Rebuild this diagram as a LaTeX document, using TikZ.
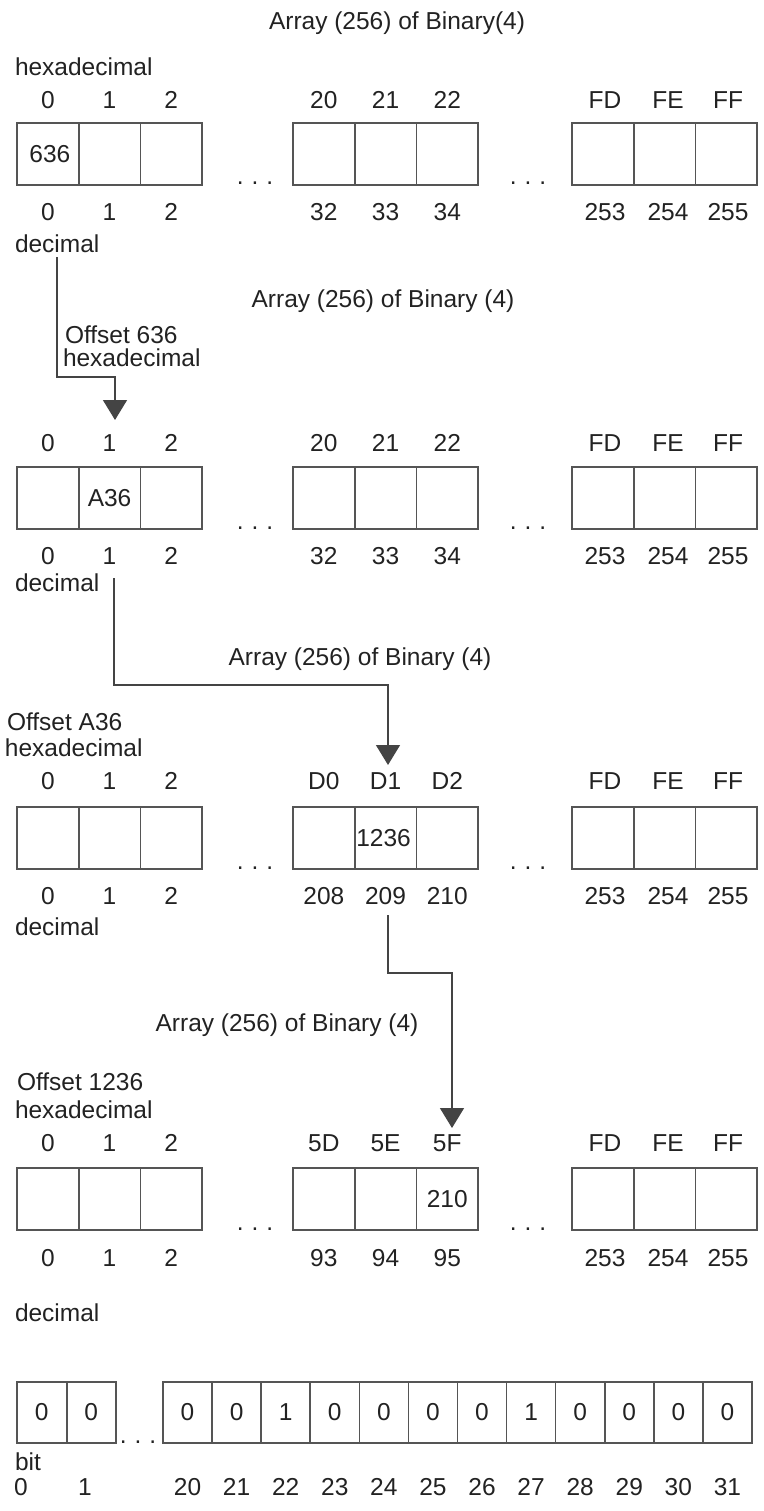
\documentclass[tikz,border=0pt]{standalone}
\usepackage{fontspec}
\setmainfont{Liberation Sans}
\usetikzlibrary{arrows.meta}
\definecolor{txtc}{HTML}{222222}
\definecolor{linec}{HTML}{555555}
\definecolor{arrc}{HTML}{444444}
\newcommand{\txtf}{\fontsize{24.5}{28}\selectfont}
\begin{document}
\begin{tikzpicture}[x=1pt,y=-1pt]
\tikzset{
  cellbox/.style={draw=linec, line width=1.6pt, minimum width=61.7pt, minimum height=62pt, inner sep=0pt, outer sep=0pt, font=\txtf, text=txtc},
  bitbox/.style={draw=linec, line width=1.6pt, minimum width=49.1pt, minimum height=61pt, inner sep=0pt, outer sep=0pt, font=\txtf, text=txtc},
  lbl/.style={font=\txtf, text=txtc, inner sep=0pt, outer sep=0pt, anchor=base},
  side/.style={font=\txtf, text=txtc, inner sep=0pt, outer sep=0pt, anchor=base west},
  inval/.style={font=\txtf, text=txtc, inner sep=0pt, outer sep=0pt, anchor=center},
  conn/.style={draw=arrc, line width=1.5pt},
  tip/.style={-{Triangle[width=24pt,length=20pt]}}
}
\useasboundingbox (0,0) rectangle (763,1511);

% ---- four arrays of 256 words ----
\foreach \r/\yt/\ty/\by/\ta/\tb/\tc/\ba/\bb/\bc in {
  1/123/109/221/20/21/22/32/33/34,
  2/467/451/564/20/21/22/32/33/34,
  3/807/789/904/D0/D1/D2/208/209/210,
  4/1168/1151/1266/5D/5E/5F/93/94/95}{
  \foreach \i/\x/\lx/\t/\b in {0/47.85/47.85/0/0, 1/109.55/109.55/1/1, 2/171.25/171.25/2/2,
      3/323.85/323.85/\ta/\ba, 4/385.55/385.55/\tb/\bb, 5/447.25/447.25/\tc/\bc,
      6/602.85/605/FD/253, 7/664.55/668/FE/254, 8/726.25/728/FF/255}{
    \node[cellbox] (r\r-c\i) at (\x,\yt+31) {};
    \node[lbl] (r\r-t\i) at (\lx,\ty) {\t};
    \node[lbl] (r\r-b\i) at (\lx,\by) {\b};
  }
  \node[lbl] (r\r-dotsa) at (255,\yt+62) {.\hspace{8pt}.\hspace{8pt}.};
  \node[lbl] (r\r-dotsb) at (528,\yt+62) {.\hspace{8pt}.\hspace{8pt}.};
}

% cell contents
\node[inval] (v1) at ([xshift=2pt]r1-c0) {636};
\node[inval] (v2) at (r2-c1) {A36};
\node[inval] (v3) at ([xshift=-2pt]r3-c4) {1236};
\node[inval] (v4) at (r4-c5) {210};

% titles
\node[lbl] (title1) at (397,30) {Array (256) of Binary(4)};
\node[lbl] (title2) at (383,308) {Array (256) of Binary (4)};
\node[lbl] (title3) at (360,665) {Array (256) of Binary (4)};
\node[lbl] (title4) at (287,1031) {Array (256) of Binary (4)};

% side labels
\node[side] (hex1) at (15,76) {hexadecimal};
\node[side] (dec1) at (15,253) {decimal};
\node[side] (off1) at (65,343) {Offset 636};
\node[side] (hex2) at (63,366) {hexadecimal};
\node[side] (dec2) at (15,591) {decimal};
\node[side] (off2) at (7,730) {Offset A36};
\node[side] (hex3) at (5,756) {hexadecimal};
\node[side] (dec3) at (15,935) {decimal};
\node[side] (off3) at (17,1090) {Offset 1236};
\node[side] (hex4) at (15,1118) {hexadecimal};
\node[side] (dec4) at (15,1321) {decimal};

% connectors
\coordinate (k1) at (115,377);
\coordinate (e1) at (115,420);
\draw[conn,tip,shorten <=4pt] (dec1.south) |- (k1) -- (e1);

\coordinate (s2) at (114,578);
\coordinate (k2) at (388,685);
\coordinate (e2) at (388,765);
\draw[conn,tip] (s2) |- (k2) -- (e2);

\coordinate (s3) at (388,915);
\coordinate (k3) at (452,973);
\coordinate (e3) at (452,1128);
\draw[conn,tip] (s3) |- (k3) -- (e3);

% ---- bit row ----
\foreach \i/\v in {0/0,1/0}{
  \node[bitbox] (bA\i) at (17+24.75+49.5*\i,1412.5) {\v};
}
\node[lbl] (bl0) at (21,1495) {0};
\node[lbl] (bl1) at (85,1495) {1};
\node[lbl] (bdots) at (138,1443) {.\hspace{8pt}.\hspace{8pt}.};
\foreach \i/\v [count=\n from 20] in {0/0,1/0,2/1,3/0,4/0,5/0,6/0,7/1,8/0,9/0,10/0,11/0}{
  \node[bitbox] (bB\i) at (163+24.54+49.08*\i,1412.5) {\v};
  \node[lbl] (bn\i) at (163+24.54+49.08*\i,1495) {\n};
}
\node[side] (bitlbl) at (15,1470) {bit};
\end{tikzpicture}
\end{document}
